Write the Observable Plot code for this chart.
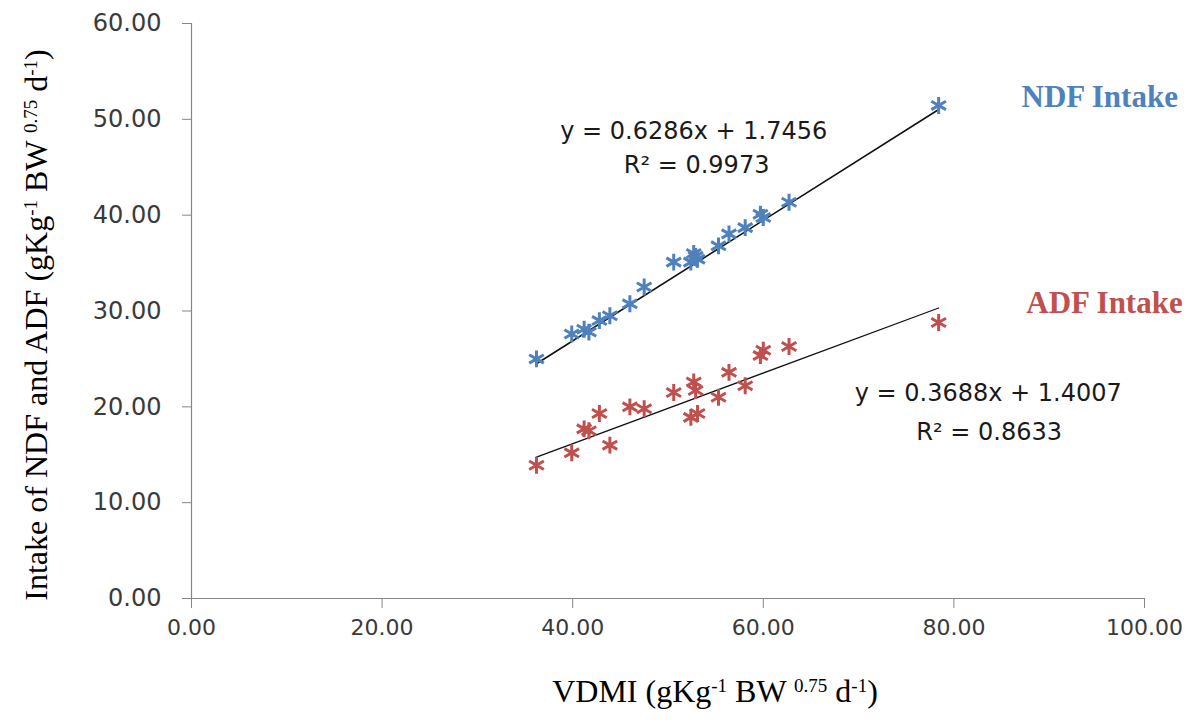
<!DOCTYPE html>
<html>
<head>
<meta charset="utf-8">
<script src="https://cdn.jsdelivr.net/npm/d3@7"></script>
<script src="https://cdn.jsdelivr.net/npm/@observablehq/plot@0.6"></script>
<style>
  html, body { margin: 0; padding: 0; background: #fff; }
  #chart svg { display: block; }
</style>
</head>
<body>
<div id="chart"></div>
<script>
// ---- data ----
const vdmi = [36.2, 39.9, 41.2, 41.7, 42.8, 43.9, 46.0, 47.5, 50.6, 52.4, 52.7, 52.9, 53.1, 55.3, 56.4, 58.1, 59.7, 60.0, 62.7, 78.4];
const ndfIntake = [25.0, 27.6, 28.1, 27.8, 29.0, 29.5, 30.75, 32.5, 35.1, 35.1, 36.0, 35.7, 35.4, 36.8, 38.05, 38.7, 40.1, 39.75, 41.35, 51.45];
const adfIntake = [13.9, 15.2, 17.7, 17.5, 19.3, 16.0, 20.0, 19.8, 21.5, 18.9, 22.6, 21.7, 19.3, 21.0, 23.6, 22.2, 25.35, 25.9, 26.3, 28.8];
const seriesNames = ["NDF Intake", "ADF Intake"];
const slopes = [0.6286, 0.3688];
const intercepts = [1.7456, 1.4007];
const r2Values = ["0.9973", "0.8633"];
const xTicks = [0, 20, 40, 60, 80, 100];
const yTicks = [0, 10, 20, 30, 40, 50, 60];

const colors = ["#4F81BD", "#C0504D"];

const ndfData = vdmi.map((x, i) => ({x, y: ndfIntake[i]}));
const adfData = vdmi.map((x, i) => ({x, y: adfIntake[i]}));
const [xMin, xMax] = d3.extent(vdmi);
const fitLines = slopes.map((s, k) => [xMin, xMax].map(x => ({x, y: s * x + intercepts[k], k})));
const eqText = slopes.map((s, k) => `y = ${s.toFixed(4)}x + ${intercepts[k].toFixed(4)}`);
const r2Text = r2Values.map(r => `R² = ${r}`);

const axisColor = "#868686";
const tickText = "#3a3a3a";

const plot = Plot.plot({
  width: 1195,
  height: 723,
  marginLeft: 191,
  marginRight: 51,
  marginTop: 23,
  marginBottom: 125,
  x: {domain: [0, 100]},
  y: {domain: [0, 60]},
  style: {fontFamily: "DejaVu Sans", background: "#fff"},
  marks: [
    Plot.axisX({ticks: xTicks, tickFormat: d => d.toFixed(2), tickSize: 10, tickPadding: 11,
      stroke: axisColor, fill: tickText, fontSize: 22, fontFamily: "DejaVu Sans", label: null}),
    Plot.axisY({ticks: yTicks, tickFormat: d => d.toFixed(2), tickSize: 9, tickPadding: 21,
      stroke: axisColor, fill: tickText, fontSize: 24, fontFamily: "DejaVu Sans", label: null}),
    Plot.ruleX([0], {stroke: axisColor, strokeWidth: 1.2}),
    Plot.ruleY([0], {stroke: axisColor, strokeWidth: 1.2}),
    Plot.line(fitLines[0], {x: "x", y: "y", stroke: "#111", strokeWidth: 1.6}),
    Plot.line(fitLines[1], {x: "x", y: "y", stroke: "#111", strokeWidth: 1.2}),
    Plot.dot(ndfData, {x: "x", y: "y", symbol: "asterisk", r: 8, stroke: colors[0], strokeWidth: 3}),
    Plot.dot(adfData, {x: "x", y: "y", symbol: "asterisk", r: 8, stroke: colors[1], strokeWidth: 3}),
    Plot.text([eqText[0]], {x: 52.7, y: 48.8, fontSize: 24, fontFamily: "DejaVu Sans", fill: "#1a1a1a"}),
    Plot.text([r2Text[0]], {x: 53.0, y: 45.2, fontSize: 24, fontFamily: "DejaVu Sans", fill: "#1a1a1a"}),
    Plot.text([eqText[1]], {x: 83.6, y: 21.4, fontSize: 24, fontFamily: "DejaVu Sans", fill: "#1a1a1a"}),
    Plot.text([r2Text[1]], {x: 83.7, y: 17.3, fontSize: 24, fontFamily: "DejaVu Sans", fill: "#1a1a1a"}),
    Plot.text([seriesNames[0]], {x: 95.3, y: 52.3, fontSize: 31, fontWeight: "bold", fontFamily: "Liberation Serif", fill: colors[0], clip: false}),
    Plot.text([seriesNames[1]], {x: 95.8, y: 30.8, fontSize: 31, fontWeight: "bold", fontFamily: "Liberation Serif", fill: colors[1], clip: false})
  ]
});

document.getElementById("chart").appendChild(plot);

// axis titles with superscripts
const svg = d3.select(plot);
function addTitle(parts, transform) {
  const t = svg.append("text")
    .attr("transform", transform)
    .attr("text-anchor", "middle")
    .attr("font-family", "Liberation Serif, Times New Roman, serif")
    .attr("font-size", 32)
    .attr("fill", "#000");
  parts.forEach(p => {
    const ts = t.append("tspan").text(p.t);
    if (p.sup) ts.attr("baseline-shift", "super").attr("font-size", 19);
  });
}
const unitParts = [
  {t: "(gKg"}, {t: "-1", sup: true}, {t: " BW "}, {t: "0.75", sup: true}, {t: " d"}, {t: "-1", sup: true}, {t: ")"}
];
addTitle([{t: "VDMI "}, ...unitParts], "translate(715,702)");
addTitle([{t: "Intake of NDF and ADF "}, ...unitParts], "translate(47,325) rotate(-90)");
</script>
</body>
</html>
